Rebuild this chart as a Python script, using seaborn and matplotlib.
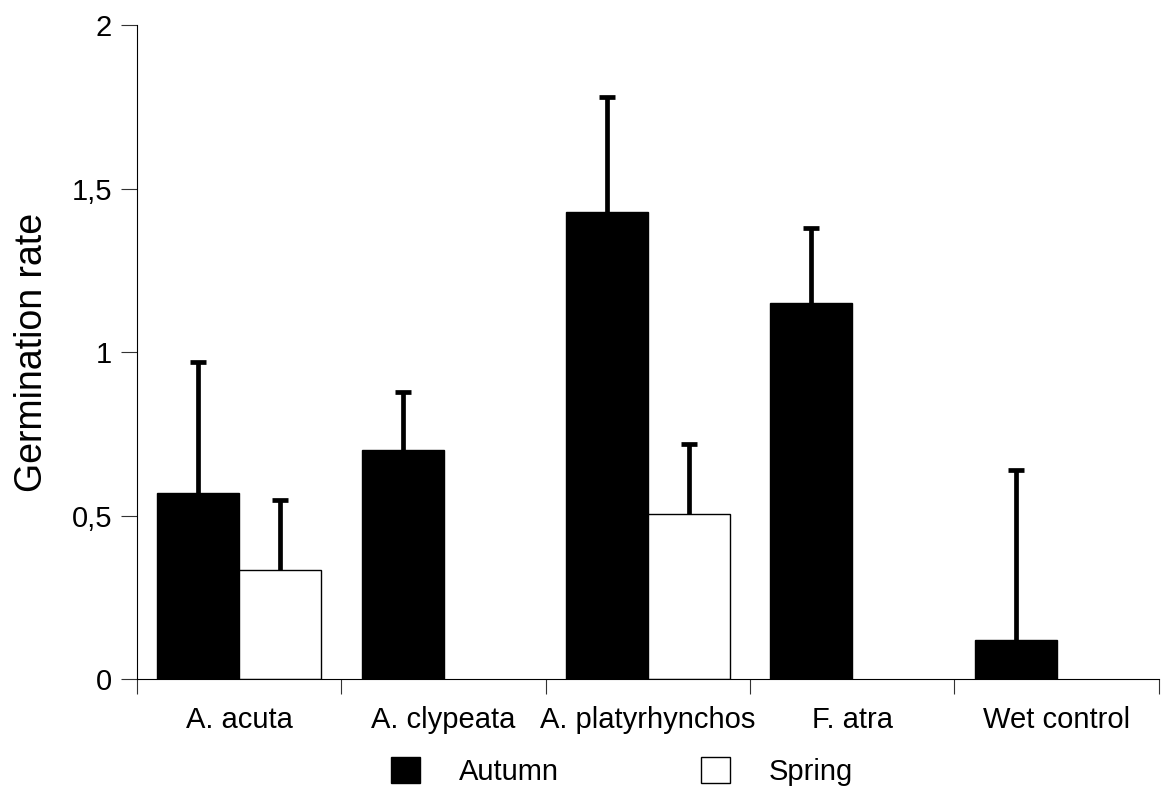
import numpy as np
import pandas as pd
import matplotlib
matplotlib.use('Agg')
import matplotlib.pyplot as plt
from matplotlib.patches import Patch
import seaborn as sns

# values
species = ['A. acuta', 'A. clypeata', 'A. platyrhynchos', 'F. atra', 'Wet control']
seasons = ['Autumn', 'Spring']
autumn = [0.57, 0.70, 1.43, 1.15, 0.12]
autumn_top = [0.97, 0.88, 1.78, 1.38, 0.64]
spring = [0.335, np.nan, 0.505, np.nan, np.nan]
spring_top = [0.55, np.nan, 0.72, np.nan, np.nan]
y_ticks = [0, 0.5, 1, 1.5, 2]
y_tick_labels = ['0', '0,5', '1', '1,5', '2']

df = pd.DataFrame({
    'species': species * 2,
    'season': ['Autumn'] * 5 + ['Spring'] * 5,
    'rate': autumn + spring,
})
tops = {'Autumn': autumn_top, 'Spring': spring_top}

sns.set_style('ticks')
plt.rcParams['font.family'] = ['Liberation Sans', 'DejaVu Sans']
plt.rcParams['text.color'] = 'black'
plt.rcParams['axes.labelcolor'] = 'black'
plt.rcParams['xtick.color'] = 'black'
plt.rcParams['ytick.color'] = 'black'

fig = plt.figure(figsize=(11.61, 7.90), dpi=100)
ax = fig.add_axes([0.118, 0.140, 0.880, 0.828])

sns.barplot(data=df.dropna(), x='species', y='rate', hue='season',
            order=species, hue_order=seasons,
            palette={'Autumn': 'black', 'Spring': 'white'},
            edgecolor='black', linewidth=1, width=0.8,
            errorbar=None, legend=False, ax=ax)

# upper-only error bars centred on each bar, no cap at the bar top
for container, season in zip(ax.containers, seasons):
    for bar in container:
        cx = bar.get_x() + bar.get_width() / 2
        h = bar.get_height()
        if np.isnan(h):
            continue
        top = tops[season][int(round(cx))]
        if np.isnan(top):
            continue
        eb = ax.errorbar(cx, h, yerr=[[0], [top - h]], fmt='none', ecolor='black',
                         elinewidth=3.4, capsize=5.8, capthick=3.4, zorder=3)
        eb[1][0].set_visible(False)

ax.set_xlim(-0.5, 4.5)
ax.set_ylim(0, 2)
ax.set_xticks(np.arange(-0.5, 5, 1))
ax.set_xticklabels([])
ax.set_xticks(range(5), species, minor=True)
ax.tick_params(axis='x', which='major', length=11, width=0.8, color='#333333')
ax.tick_params(axis='x', which='minor', length=0, pad=19, labelsize=21, labelcolor='black')
ax.set_yticks(y_ticks, y_tick_labels)
ax.tick_params(axis='y', length=11.5, width=0.8, color='#333333', pad=6.5,
               labelsize=21, labelcolor='black')

sns.despine(ax=ax)
for s in ['left', 'bottom']:
    ax.spines[s].set_color('black')
    ax.spines[s].set_linewidth(0.8)

ax.set_xlabel('')
ax.set_ylabel('Germination rate', fontsize=27, color='black')
ax.yaxis.set_label_coords(-0.085, 0.5)

handles = [Patch(facecolor='black', edgecolor='black', linewidth=1),
           Patch(facecolor='white', edgecolor='black', linewidth=1)]
leg = fig.legend(handles, seasons, loc='center', bbox_to_anchor=(0.536, 0.024),
                 ncol=2, frameon=False, fontsize=21, handlelength=1.0,
                 handleheight=1.0, handletextpad=1.33, columnspacing=4.87)
for t in leg.get_texts():
    t.set_color('black')

fig.savefig('out.png', dpi=100)
